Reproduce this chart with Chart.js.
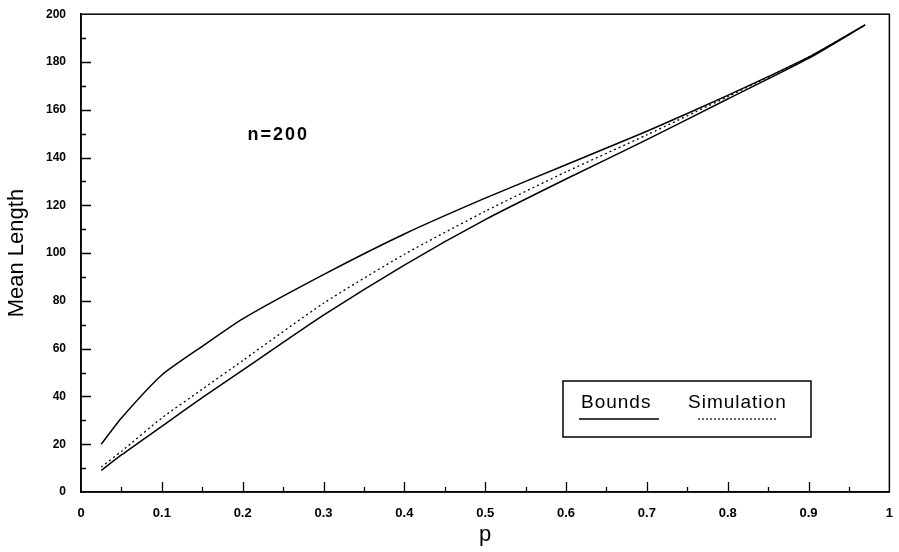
<!DOCTYPE html>
<html>
<head>
<meta charset="utf-8">
<script src="https://cdn.jsdelivr.net/npm/chart.js@4.4.0/dist/chart.umd.min.js"></script>
<style>
  html, body { margin: 0; padding: 0; background: #fff; }
  #wrap { width: 899px; height: 552px; }
</style>
</head>
<body>
<div id="wrap"><canvas id="c" width="899" height="552"></canvas></div>
<script>
// values (n=200)
var pValues = [0.025, 0.05, 0.1, 0.15, 0.2, 0.3, 0.4, 0.5, 0.6, 0.7, 0.8, 0.9, 0.97];
var upperBound = [20, 31, 49, 61, 72.5, 91, 108, 123, 137, 151, 166, 182, 195.5];
var lowerBound = [9, 15.5, 27.5, 39.5, 51, 74, 95, 114, 131, 147.5, 164.5, 181.5, 195.5];
var simulation = [10.5, 17, 31, 43, 55, 79, 99.5, 117.5, 134, 149.5, 165.5, 182, 195.5];

var FONT = '"Liberation Sans", Arial, sans-serif';

function pts(ys) {
    return pValues.map(function(p, i) { return {x: p, y: ys[i]}; });
}

// inward ticks, frame, legend box and the n=200 note
var decorations = {
    id: 'decorations',
    afterDraw: function(chart) {
        var ctx = chart.ctx, a = chart.chartArea;
        var xs = chart.scales.x, ys = chart.scales.y;
        ctx.save();
        ctx.strokeStyle = '#000';
        ctx.lineWidth = 1.5;
        ctx.strokeRect(a.left, a.top, a.right - a.left, a.bottom - a.top);

        ctx.lineWidth = 1.3;
        ctx.beginPath();
        for (var i = 1; i < 20; i++) {
            var px = Math.round(xs.getPixelForValue(i * 0.05)) + 0.5;
            var len = i % 2 === 0 ? 10 : 5;
            ctx.moveTo(px, a.bottom); ctx.lineTo(px, a.bottom - len);
        }
        for (var j = 1; j < 20; j++) {
            var py = Math.round(ys.getPixelForValue(j * 10)) + 0.5;
            var l2 = j % 2 === 0 ? 10 : 5;
            ctx.moveTo(a.left, py); ctx.lineTo(a.left + l2, py);
        }
        ctx.stroke();

        // n=200 label
        ctx.fillStyle = '#000';
        ctx.font = 'bold 18px ' + FONT;
        ctx.letterSpacing = '2px';
        ctx.textAlign = 'left';
        ctx.textBaseline = 'middle';
        ctx.fillText('n=200', xs.getPixelForValue(0.206), ys.getPixelForValue(149.5));

        // legend box
        var bx = 563, by = 381, bw = 248, bh = 56;
        ctx.lineWidth = 1.5;
        ctx.strokeRect(bx, by, bw, bh);
        ctx.font = '19px ' + FONT;
        ctx.letterSpacing = '1px';
        ctx.textBaseline = 'alphabetic';
        ctx.fillText('Bounds', 581, 408);
        ctx.fillText('Simulation', 688, 408);
        ctx.letterSpacing = '0px';
        ctx.lineWidth = 1.5;
        ctx.beginPath();
        ctx.moveTo(579, 419); ctx.lineTo(659, 419);
        ctx.stroke();
        ctx.lineWidth = 1.2;
        ctx.setLineDash([2, 2]);
        ctx.beginPath();
        ctx.moveTo(698, 419); ctx.lineTo(778, 419);
        ctx.stroke();
        ctx.restore();
    }
};

new Chart(document.getElementById('c'), {
    type: 'scatter',
    data: {
        datasets: [
            {label: 'Bounds', data: pts(upperBound), showLine: true, borderColor: '#000', borderWidth: 1.5, pointRadius: 0, tension: 0.2},
            {label: 'Bounds', data: pts(lowerBound), showLine: true, borderColor: '#000', borderWidth: 1.5, pointRadius: 0, tension: 0.2},
            {label: 'Simulation', data: pts(simulation), showLine: true, borderColor: '#000', borderWidth: 1.3, borderDash: [2, 3], pointRadius: 0, tension: 0.2}
        ]
    },
    options: {
        responsive: false,
        animation: false,
        layout: {padding: {top: 8, right: 7, left: 0, bottom: 0}},
        plugins: {legend: {display: false}, tooltip: {enabled: false}},
        scales: {
            x: {
                type: 'linear', min: 0, max: 1,
                grid: {display: false},
                border: {display: true, color: '#000', width: 1.5},
                ticks: {
                    stepSize: 0.1, color: '#000', padding: 6,
                    font: {family: FONT, size: 13, weight: 'bold'},
                    callback: function(v) { return String(Math.round(v * 10) / 10); }
                },
                title: {display: true, text: 'p', color: '#000', font: {family: FONT, size: 22}, padding: {top: 0}},
                afterFit: function(s) { s.height = 60; }
            },
            y: {
                min: 0, max: 200,
                grid: {display: false},
                border: {display: true, color: '#000', width: 1.5},
                ticks: {stepSize: 20, color: '#000', padding: 7, font: {family: FONT, size: 12, weight: 'bold'}},
                title: {display: true, text: 'Mean Length', color: '#000', font: {family: FONT, size: 22}, padding: {bottom: 2}},
                afterFit: function(s) { s.width = 81; }
            }
        }
    },
    plugins: [decorations]
});
</script>
</body>
</html>
